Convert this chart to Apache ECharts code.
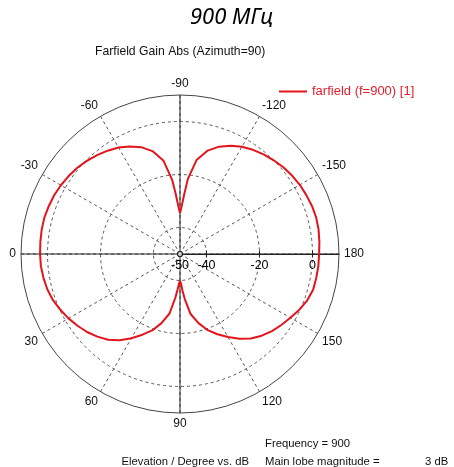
<!DOCTYPE html>
<html>
<head>
<meta charset="utf-8">
<script src="https://cdn.jsdelivr.net/npm/echarts@6/dist/echarts.min.js"></script>
<style>html,body{margin:0;padding:0;background:#fff}#c{width:454px;height:467px}</style>
</head>
<body>
<div id="c"></div>
<script>
// Elevation angle (degrees) and gain (dB)
const phiDeg = [-180,-175,-170,-165,-160,-155,-150,-145,-140,-135,-130,-125,-120,-115,-110,-105,-100,-96,-94,-92,-90,
  -88,-86,-84,-80,-75,-70,-65,-60,-55,-50,-45,-40,-35,-30,-25,-20,-15,-10,-5,
  0,5,10,15,20,25,30,35,40,45,50,55,60,65,70,75,80,84,86,88,90,
  92,94,96,100,105,110,115,120,125,130,135,140,145,150,155,160,165,170,175,180];
const gainDb = [2.5,2.8,3.1,3.2,3.0,2.6,2.2,1.6,0.9,0.0,-0.9,-2.0,-3.3,-4.9,-6.9,-9.6,-14.0,-21.5,-27.5,-32.0,-34.5,
  -32.0,-27.5,-22.0,-14.3,-9.8,-7.1,-5.2,-3.6,-2.4,-1.3,-0.3,0.6,1.3,1.9,2.4,2.7,3.0,3.0,2.9,
  2.8,2.7,2.3,1.8,1.0,-0.2,-1.4,-2.8,-4.2,-5.9,-7.8,-10.3,-13.3,-16.4,-19.3,-23.0,-27.2,-33.5,-36.5,-38.8,-39.8,
  -38.8,-36.0,-33.0,-27.0,-23.0,-19.4,-16.6,-13.8,-11.0,-8.4,-6.4,-4.7,-3.3,-1.9,-0.3,1.1,2.0,2.2,2.4,2.5];
const radialLabels = [-50, -40, -20, 0];
const radialGrid = [-40, -20, 0];
const seriesName = 'farfield (f=900) [1]';
const headTitle = '900 МГц';
const plotTitle = 'Farfield Gain Abs (Azimuth=90)';
const freqText = 'Frequency = 900';
const axisText = 'Elevation / Degree vs. dB';
const lobeText = 'Main lobe magnitude =';
const lobeValue = '3 dB';

const curve = phiDeg.map((p, i) => [gainDb[i], p + 360]);
const radialLabelPts = radialLabels.map(v => [v, 180]);
const radialTickPts = radialGrid.map(v => [v, 180]);
const font = 'Liberation Sans, Arial, sans-serif';
const chart = echarts.init(document.getElementById('c'));
const angleFmt = v => { let p = v >= 360 ? v - 360 : v; if (p > 180) p -= 360; return String(p); };
const smallText = { fontFamily: font, fontWeight: 'normal', fontSize: 11.3, color: '#111' };

chart.setOption({
  animation: false,
  textStyle: { fontFamily: font },
  title: [
    { text: headTitle, left: 185, top: 2, textStyle: { fontFamily: 'Noto Sans', fontStyle: 'italic', fontWeight: 'normal', fontSize: 22, color: '#000' } },
    { text: plotTitle, left: 90, top: 41, textStyle: { fontFamily: font, fontWeight: 'normal', fontSize: 12.2, color: '#111' } },
    { text: freqText, left: 260, top: 433, textStyle: smallText },
    { text: axisText, right: 200, top: 451, textStyle: smallText },
    { text: lobeText, left: 260, top: 451, textStyle: smallText },
    { text: lobeValue, left: 420, top: 451, textStyle: smallText }
  ],
  legend: {
    data: [seriesName], left: 274, top: 80, itemWidth: 28, itemHeight: 2, icon: 'rect', itemGap: 5,
    textStyle: { color: '#e0202c', fontSize: 13, fontFamily: font }
  },
  polar: [
    { center: [180, 254], radius: 159 },
    { center: [180, 254], radius: 159 }
  ],
  angleAxis: [
    { polarIndex: 0, type: 'value', min: 180, max: 540, interval: 30, startAngle: 0, clockwise: false,
      axisLine: { lineStyle: { color: '#444', width: 1 } },
      axisTick: { show: false },
      axisLabel: { margin: 5, color: '#111', fontSize: 12, formatter: angleFmt },
      splitLine: { show: true, lineStyle: { color: '#555', type: [3, 3], width: 1 } } },
    { polarIndex: 1, type: 'value', min: 180, max: 540, interval: 90, startAngle: 0, clockwise: false,
      axisLine: { show: false }, axisTick: { show: false }, axisLabel: { show: false },
      splitLine: { show: true, lineStyle: { color: '#222', type: 'solid', width: 1 } } }
  ],
  radiusAxis: [
    { polarIndex: 0, type: 'value', min: -50, max: 10,
      axisLine: { show: true, lineStyle: { color: '#222', width: 1 } },
      axisTick: { show: false, customValues: radialGrid },
      axisLabel: { show: false, customValues: radialLabels },
      splitLine: { show: true, lineStyle: { color: '#555', type: [3, 3], width: 1 } } },
    { polarIndex: 1, type: 'value', min: -50, max: 10,
      axisLine: { show: false }, axisTick: { show: false }, axisLabel: { show: false }, splitLine: { show: false } }
  ],
  series: [
    { name: seriesName, type: 'line', coordinateSystem: 'polar', polarIndex: 0, data: curve,
      symbol: 'none', smooth: false, z: 5,
      lineStyle: { color: '#e3141b', width: 2 }, itemStyle: { color: '#e3141b' } },
    { name: 'radialTicks', type: 'scatter', coordinateSystem: 'polar', polarIndex: 0, data: radialTickPts,
      symbol: 'rect', symbolSize: [1, 7], z: 4, silent: true, itemStyle: { color: '#222', opacity: 1 } },
    { name: 'radialLabels', type: 'scatter', coordinateSystem: 'polar', polarIndex: 0, data: radialLabelPts,
      symbolSize: 1, z: 7, silent: true, itemStyle: { opacity: 0 },
      label: { show: true, position: 'bottom', distance: 5, formatter: p => String(p.value[0]),
        color: '#000', opacity: 1, textBorderWidth: 0, fontSize: 12.5, fontFamily: font } },
    { name: 'origin', type: 'scatter', coordinateSystem: 'polar', polarIndex: 0, data: [[-50, 360]],
      symbolSize: 5, z: 6, silent: true,
      itemStyle: { color: '#fff', borderColor: '#000', borderWidth: 1.2 } }
  ]
});
</script>
</body>
</html>
